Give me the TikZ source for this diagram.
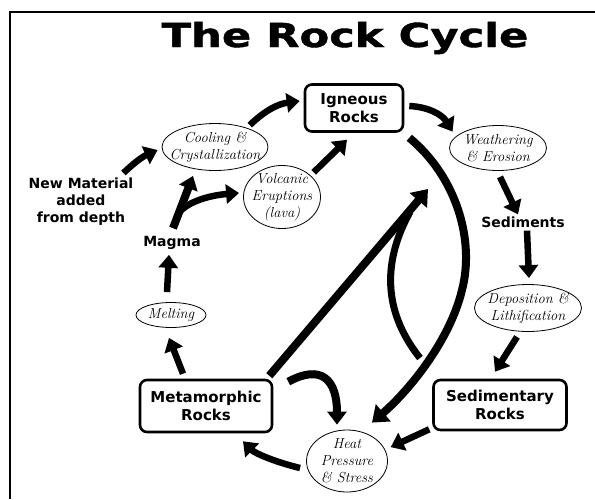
\documentclass[tikz,border=0pt]{standalone}
\usepackage{fontspec}
\newfontfamily\labelfont{DejaVu Sans}
\newfontfamily\titlefont{DejaVu Sans Bold}[FakeBold=1.2]
\usetikzlibrary{arrows.meta,shapes.geometric,calc}
\tikzset{
  rock/.style={draw, line width=2.6pt, rounded corners=7pt, align=center,
    font=\labelfont\bfseries\fontsize{15}{18}\selectfont, inner sep=0pt},
  proc/.style={draw, ellipse, line width=0.8pt, align=center,
    font=\itshape\fontsize{14.5}{17}\selectfont, inner sep=-9pt},
  word/.style={align=center, inner sep=0pt,
    font=\labelfont\bfseries\fontsize{14}{17}\selectfont},
  flow/.style={line width=6.5pt, -{Triangle[length=13pt,width=19pt]}},
  bigflow/.style={line width=8pt, -{Triangle[length=15pt,width=22pt]}},
  plain/.style={line width=7pt},
}
\begin{document}
\begin{tikzpicture}[x=1pt,y=-1pt]
\useasboundingbox (0,0) rectangle (595,499);
% frame
\draw[line width=2pt] (10,499) -- (10,12) -- (595,12);
% title
\node[font=\titlefont\fontsize{33}{33}\selectfont, inner sep=0pt, anchor=base] (title) at (345,47)
  {\scalebox{1.31}[1]{The Rock Cycle}};
% boxes
\node[rock, minimum width=98pt, minimum height=47pt] (ign) at (354,108) {Igneous\\Rocks};
\node[rock, minimum width=132pt, minimum height=52pt] (meta) at (206,406) {Metamorphic\\Rocks};
\node[rock, minimum width=133pt, minimum height=50pt] (sedr) at (500,405) {Sedimentary\\Rocks};
% ellipses
\node[proc, minimum width=106pt, minimum height=47pt] (cool) at (215,147) {Cooling \&\\Crystallization};
\node[proc, minimum width=97pt, minimum height=45pt] (weath) at (498,148) {Weathering\\\& Erosion};
\node[proc, minimum width=77pt, minimum height=63pt] (volc) at (282,197) {Volcanic\\Eruptions\\(lava)};
\node[proc, minimum width=107pt, minimum height=47pt] (dep) at (528,308) {Deposition \&\\Lithification};
\node[proc, minimum width=70pt, minimum height=25pt] (melt) at (171,315) {Melting};
\node[proc, minimum width=81pt, minimum height=62pt] (heat) at (347,461) {Heat\\Pressure\\\& Stress};
% words
\node[word] (newm) at (81,202) {New Material\\added\\from depth};
\node[word] (magma) at (172,243) {Magma};
\node[word] (sedim) at (523,222) {Sediments};
% free points
\coordinate (meet) at (428,189);
\coordinate (loopend) at (420,358);
\coordinate (fork) at (178,214);
% connectors
\draw[flow] ([shift={(2pt,3pt)}]cool.30) to[bend left=18] ([shift={(-4pt,7pt)}]ign.west);
\draw[flow] ([shift={(5pt,2pt)}]ign.east) to[bend left=28] ([shift={(-3pt,5pt)}]weath.165);
\draw[flow] ([shift={(2pt,-6pt)}]weath.south) -- ([shift={(-5pt,2pt)}]sedim.north);
\draw[flow] ([shift={(4pt,-3pt)}]sedim.south) -- ([shift={(1pt,6pt)}]dep.north);
\draw[flow] ([shift={(-11pt,-5pt)}]dep.south) -- ([shift={(-5pt,7pt)}]sedr.north);
\draw[flow] ([shift={(-3pt,2pt)}]sedr.south west) -- ([shift={(11pt,-5pt)}]heat.30);
\draw[flow] ([shift={(-6pt,-7pt)}]heat.west) .. controls +(-25,-6) and +(12,12) .. ([shift={(37pt,-8pt)}]meta.south);
\draw[flow] ([shift={(-23pt,5pt)}]meta.north) -- ([shift={(-2pt,-10pt)}]melt.south);
\draw[flow] ([shift={(-4pt,10pt)}]melt.north) -- ([shift={(-3pt,-5pt)}]magma.south);
\draw[flow, line width=8pt] ([shift={(1pt,8pt)}]magma.north) -- ([shift={(-22pt,-5pt)}]cool.south);
\draw[flow] (fork) .. controls +(10,-14) and +(-25,2) .. ([shift={(-4pt,4pt)}]volc.west);
\draw[flow] ([shift={(-10pt,5pt)}]newm.north east) to[bend left=10] ([shift={(-4pt,-3pt)}]cool.west);
\draw[flow] ([shift={(7pt,0pt)}]volc.45) -- ([shift={(-7pt,-7pt)}]ign.south);
\draw[bigflow] ([shift={(-4pt,3pt)}]meta.north east) -- (meet);
\draw[bigflow] ([shift={(5pt,-5pt)}]ign.south east) .. controls +(47,39) and +(13,-50) .. (462,290)
  .. controls +(-12,50) and +(38,-33) .. ([shift={(25pt,7pt)}]heat.north);
\draw[plain] (410,212) .. controls +(-25,45) and +(-40,-50) .. (loopend);
\draw[flow, line width=8pt] ([shift={(15pt,-3pt)}]meta.north east) .. controls +(33,-18) and +(0,-45) .. ([shift={(-10pt,5pt)}]heat.north);
\end{tikzpicture}
\end{document}
